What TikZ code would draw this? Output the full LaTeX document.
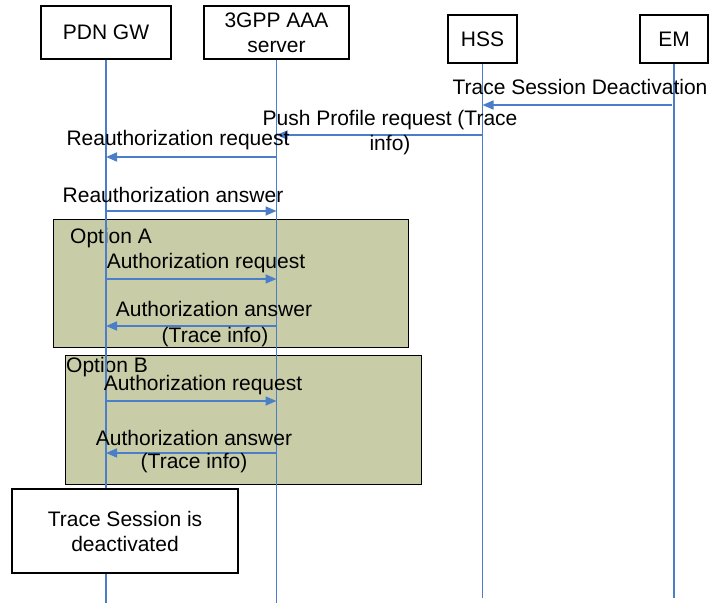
\documentclass[tikz,border=0pt]{standalone}
\usepackage{fontspec}
\setmainfont{Liberation Sans}
\usetikzlibrary{arrows.meta}
\definecolor{lifeblue}{RGB}{74,126,200}
\definecolor{optfill}{RGB}{200,205,168}
\tikzset{
  actor/.style={draw=black, line width=1.2pt, fill=white, inner sep=0pt, align=center, font=\fontsize{21}{25}\selectfont},
  life/.style={draw=lifeblue, line width=1.8pt},
  msg/.style={draw=lifeblue, line width=1.6pt, -{Triangle[length=11pt,width=9pt]}},
  lbl/.style={inner sep=0pt, align=center, font=\fontsize{21}{25}\selectfont},
  optbox/.style={draw=black, line width=1.2pt, fill=optfill},
}
\begin{document}
\begin{tikzpicture}[x=1pt,y=-1pt]
\useasboundingbox (0,0) rectangle (713,605);
% option boxes
\node[optbox, minimum width=355pt, minimum height=128pt, anchor=north west, inner sep=0pt] (optA) at (53,219) {};
\node[optbox, minimum width=356pt, minimum height=129pt, anchor=north west, inner sep=0pt] (optB) at (65,355) {};
\node[lbl, anchor=west] (optAl) at (70,238) {Option A};
\node[lbl, anchor=west] (optBl) at (66,367) {Option B};
% actors
\node[actor, minimum width=130pt, minimum height=53pt] (pdn) at (106,32.5) {PDN GW};
\node[actor, minimum width=145pt, minimum height=53pt] (aaa) at (276.5,32.5) {3GPP AAA\\server};
\node[actor, minimum width=69pt, minimum height=48pt] (hss) at (482.5,39) {HSS};
\node[actor, minimum width=68pt, minimum height=48pt] (em) at (674,39) {EM};
% lifeline ends
\coordinate (pdnE) at (106,603);
\coordinate (aaaE) at (276.5,603);
\coordinate (hssE) at (482.5,598);
\coordinate (emE) at (674,598);
\draw[life] (pdn.south) -- (pdnE);
\draw[life] (aaa.south) -- (aaaE);
\draw[life] (hss.south) -- (hssE);
\draw[life] (em.south) -- (emE);
% final box
\node[actor, minimum width=226pt, minimum height=84pt] (done) at (125,531) {Trace Session is\\deactivated};
% message points
\coordinate (em1) at (672,105);  \coordinate (hss1) at (482.5,105);
\coordinate (hss2) at (482.5,135); \coordinate (aaa2) at (276.5,135);
\coordinate (aaa3) at (276.5,157); \coordinate (pdn3) at (106,157);
\coordinate (pdn4) at (106,211); \coordinate (aaa4) at (276.5,211);
\coordinate (pdn5) at (106,279); \coordinate (aaa5) at (276.5,279);
\coordinate (aaa6) at (276.5,326); \coordinate (pdn6) at (106,326);
\coordinate (pdn7) at (106,401); \coordinate (aaa7) at (276.5,401);
\coordinate (aaa8) at (276.5,453); \coordinate (pdn8) at (106,453);
\draw[msg] (em1) -- (hss1);
\draw[msg] (hss2) -- (aaa2);
\draw[msg] (aaa3) -- (pdn3);
\draw[msg] (pdn4) -- (aaa4);
\draw[msg] (pdn5) -- (aaa5);
\draw[msg] (aaa6) -- (pdn6);
\draw[msg] (pdn7) -- (aaa7);
\draw[msg] (aaa8) -- (pdn8);
% labels
\node[lbl] (l1) at (580,87) {Trace Session Deactivation};
\node[lbl] (l2) at (390,133) {Push Profile request (Trace\\info)};
\node[lbl] (l3) at (178,140) {Reauthorization request};
\node[lbl] (l4) at (173,195) {Reauthorization answer};
\node[lbl] (l5) at (206,263) {Authorization request};
\node[lbl] (l6) at (214,309) {Authorization answer};
\node[lbl] (l6b) at (215,337) {(Trace info)};
\node[lbl] (l7) at (203,385) {Authorization request};
\node[lbl] (l8) at (194,438) {Authorization answer};
\node[lbl] (l8b) at (194,463) {(Trace info)};
\end{tikzpicture}
\end{document}
